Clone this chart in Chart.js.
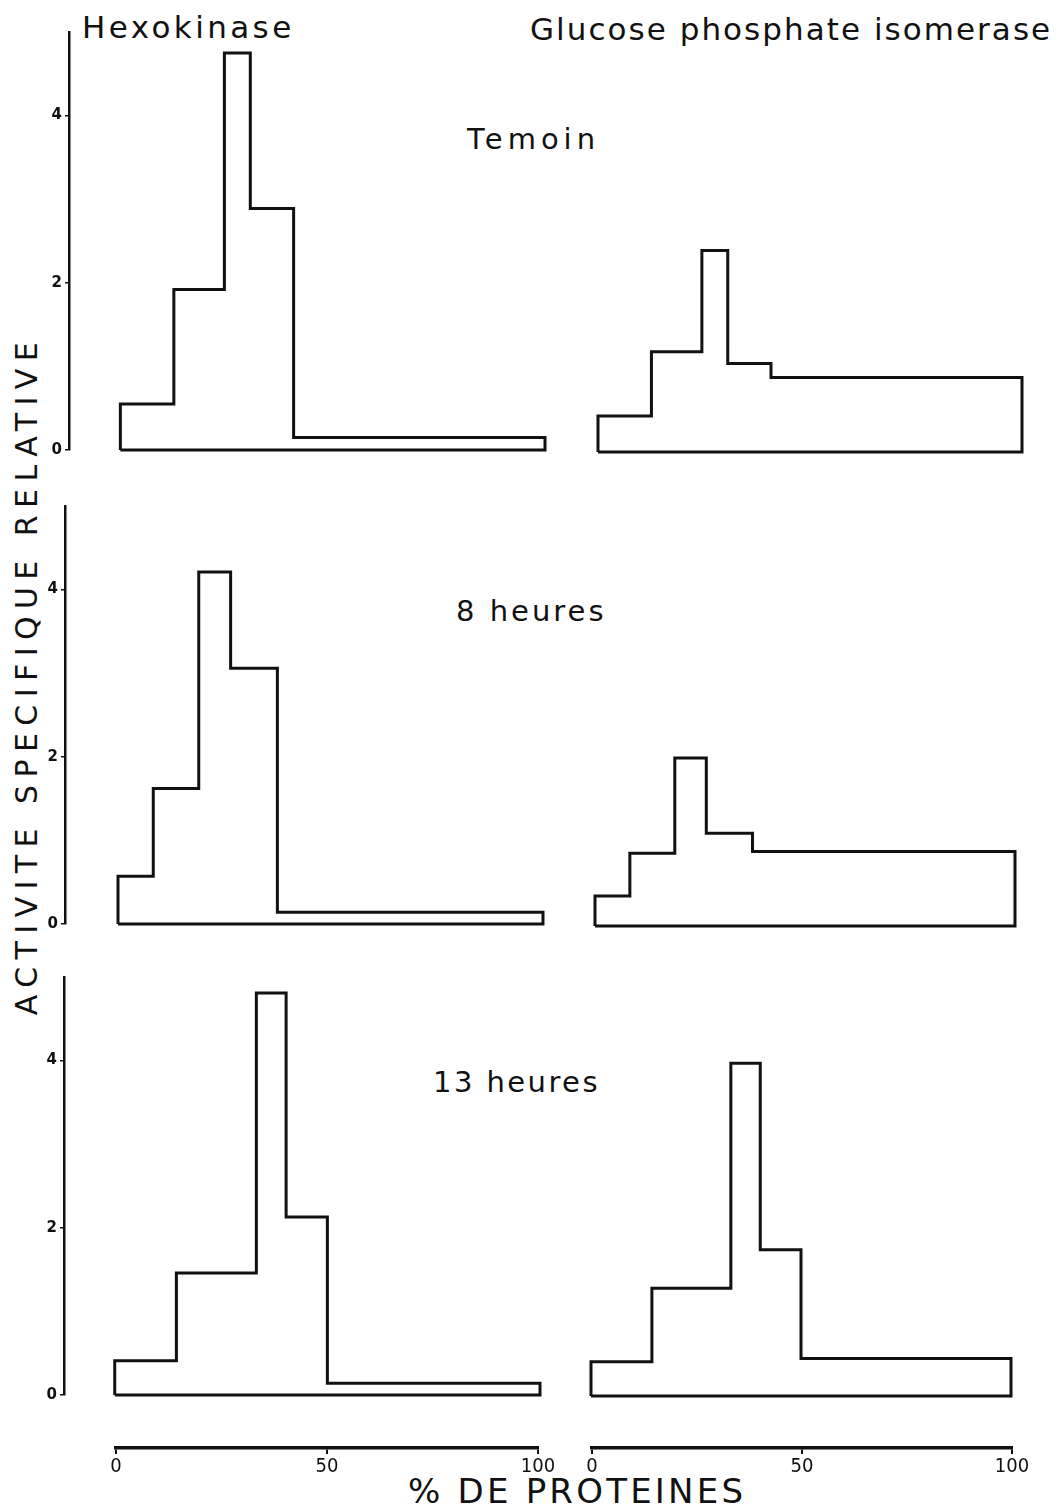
<!DOCTYPE html>
<html>
<head>
<meta charset="utf-8">
<script src="https://cdn.jsdelivr.net/npm/chart.js@4.4.0/dist/chart.umd.min.js"></script>
<style>
    body { margin: 0; background: #fff; }
    #page { position: relative; width: 1058px; height: 1508px; overflow: hidden; background: #fff;
            font-family: "DejaVu Sans", sans-serif; color: #111; }
    #page canvas { position: absolute; }
    .lbl { position: absolute; white-space: nowrap; line-height: 1; }
</style>
</head>
<body>
<div id="page">
    <div class="lbl" id="tHexo" data-left="82" data-base="38" data-size="31" data-w="213">Hexokinase</div>
    <div class="lbl" id="tGpi" data-left="530" data-base="40" data-size="31" data-w="522">Glucose phosphate isomerase</div>
    <div class="lbl" data-left="467" data-base="150" data-size="29" data-w="133">Temoin</div>
    <div class="lbl" data-left="456" data-base="622" data-size="29" data-w="151">8 heures</div>
    <div class="lbl" data-left="433" data-base="1093" data-size="29" data-w="167">13 heures</div>
    <div class="lbl" data-left="408" data-base="1503" data-size="34" data-w="338">% DE PROTEINES</div>
    <div class="lbl" id="yTitle">ACTIVITE SPECIFIQUE RELATIVE</div>
</div>

<script>
// % de protéines: limits of the fractions, one set per row
const bordersTemoin = [0, 12.6, 24.5, 30.6, 40.8, 100];
const borders8h = [0, 8.3, 19.0, 26.5, 37.5, 100];
const borders13h = [0, 14.5, 33.3, 40.3, 50.0, 100];

// activite specifique relative of each fraction
const hexoTemoin = [0.55, 1.92, 4.75, 2.89, 0.15];
const gpiTemoin = [0.43, 1.20, 2.41, 1.06, 0.89];
const hexo8h = [0.57, 1.62, 4.21, 3.06, 0.14];
const gpi8h = [0.36, 0.87, 2.01, 1.11, 0.89];
const hexo13h = [0.41, 1.46, 4.81, 2.13, 0.14];
const gpi13h = [0.41, 1.29, 3.98, 1.75, 0.45];

const yTicks = [0, 2, 4];
const xTicks = [0, 50, 100];
const yMax = 5;

const INK = '#111';
const PX_PER_UNIT = 83.5;
const page = document.getElementById('page');

// outline of the histogram: start at base, climb each step, back to base
function outline(borders, values) {
    const pts = [{ x: borders[0], y: 0 }];
    values.forEach((v, i) => {
        pts.push({ x: borders[i], y: v });
        pts.push({ x: borders[i + 1], y: v });
    });
    pts.push({ x: borders[borders.length - 1], y: 0 });
    pts.push({ x: borders[0], y: 0 });
    return pts;
}

function addCanvas(left, top, width, height) {
    const c = document.createElement('canvas');
    c.width = Math.round(width);
    c.height = Math.round(height);
    c.style.left = Math.round(left) + 'px';
    c.style.top = Math.round(top) + 'px';
    page.appendChild(c);
    return c;
}

// g: pixel position of 0 % and 100 %, of the zero line and of the y axis (left column only)
function createPanel(borders, values, g) {
    const padTop = 14, padBot = 14, padSide = 8, labelW = 40;
    const withAxis = g.axisX !== undefined;
    const pxPerPct = (g.x100 - g.x0) / 100;
    const chartLeft = withAxis ? g.axisX : g.x0;
    const left = withAxis ? g.axisX - labelW : g.x0 - padSide;
    const top = g.zero - yMax * PX_PER_UNIT - padTop;
    const canvas = addCanvas(left, top, g.x100 + padSide - left, yMax * PX_PER_UNIT + padTop + padBot);

    new Chart(canvas.getContext('2d'), {
        type: 'scatter',
        data: {
            datasets: [{
                data: outline(borders, values),
                showLine: true,
                borderColor: INK,
                borderWidth: 3,
                pointRadius: 0,
                tension: 0,
                fill: false,
                clip: false
            }]
        },
        options: {
            responsive: false,
            animation: false,
            events: [],
            layout: { padding: { top: padTop, bottom: padBot, left: withAxis ? 0 : padSide, right: padSide } },
            plugins: { legend: { display: false }, tooltip: { enabled: false } },
            scales: {
                x: {
                    type: 'linear',
                    min: -(g.x0 - chartLeft) / pxPerPct,
                    max: 100,
                    display: false
                },
                y: {
                    min: 0,
                    max: yMax,
                    display: withAxis,
                    afterFit: scale => { scale.width = withAxis ? labelW : 0; },
                    afterBuildTicks: scale => { scale.ticks = yTicks.map(v => ({ value: v })); },
                    grid: { drawOnChartArea: false, drawTicks: true, tickLength: 4, color: INK, lineWidth: 1.5 },
                    border: { color: INK, width: 2.5 },
                    ticks: { color: INK, padding: 3, font: { family: 'DejaVu Sans', size: 15, weight: 'bold' } }
                }
            }
        }
    });
}

// the two "% de proteines" scales under the last row
function createXScale(x0, x100, lineY) {
    const side = 24, axisH = 34, padTop = 4, areaH = 10;
    const canvas = addCanvas(x0 - side, lineY - areaH - padTop, x100 - x0 + 2 * side, padTop + areaH + axisH);
    new Chart(canvas.getContext('2d'), {
        type: 'scatter',
        data: { datasets: [] },
        options: {
            responsive: false,
            animation: false,
            events: [],
            layout: { padding: { top: padTop, bottom: 0, left: side, right: side } },
            plugins: { legend: { display: false }, tooltip: { enabled: false } },
            scales: {
                x: {
                    type: 'linear',
                    position: 'bottom',
                    min: 0,
                    max: 100,
                    afterFit: scale => { scale.height = axisH; },
                    afterBuildTicks: scale => { scale.ticks = xTicks.map(v => ({ value: v })); },
                    grid: { drawOnChartArea: false, drawTicks: true, tickLength: 6, color: INK, lineWidth: 2 },
                    border: { color: INK, width: 3.5 },
                    ticks: { color: INK, padding: 1, font: { family: '"DejaVu Sans Condensed", "DejaVu Sans"', size: 20 } }
                },
                y: { min: 0, max: 1, display: false }
            }
        }
    });
}

createPanel(bordersTemoin, hexoTemoin, { x0: 120.4, x100: 545.4, zero: 449, axisX: 69 });
createPanel(bordersTemoin, gpiTemoin, { x0: 597.6, x100: 1021.7, zero: 451 });
createPanel(borders8h, hexo8h, { x0: 118, x100: 543, zero: 923.5, axisX: 65 });
createPanel(borders8h, gpi8h, { x0: 594.5, x100: 1014, zero: 925 });
createPanel(borders13h, hexo13h, { x0: 114.3, x100: 539.3, zero: 1394.5, axisX: 63.6 });
createPanel(borders13h, gpi13h, { x0: 591.2, x100: 1010.8, zero: 1395.5 });

createXScale(116, 538, 1448);
createXScale(592, 1012, 1448);

// place the texts on their baseline and stretch them to the printed width
function fitWidth(el, w) {
    el.style.letterSpacing = '0px';
    const w0 = el.offsetWidth;
    el.style.letterSpacing = ((w - w0) / el.textContent.length) + 'px';
}

document.querySelectorAll('.lbl[data-w]').forEach(el => {
    const size = +el.dataset.size;
    el.style.fontSize = size + 'px';
    el.style.left = el.dataset.left + 'px';
    el.style.top = (+el.dataset.base - 0.846 * size) + 'px';
    fitWidth(el, +el.dataset.w);
});

const yTitle = document.getElementById('yTitle');
yTitle.style.fontSize = '30px';
fitWidth(yTitle, 680);
yTitle.style.left = '27px';
yTitle.style.top = '675px';
yTitle.style.transform = 'translate(-50%, -50%) rotate(-90deg)';
</script>
</body>
</html>
